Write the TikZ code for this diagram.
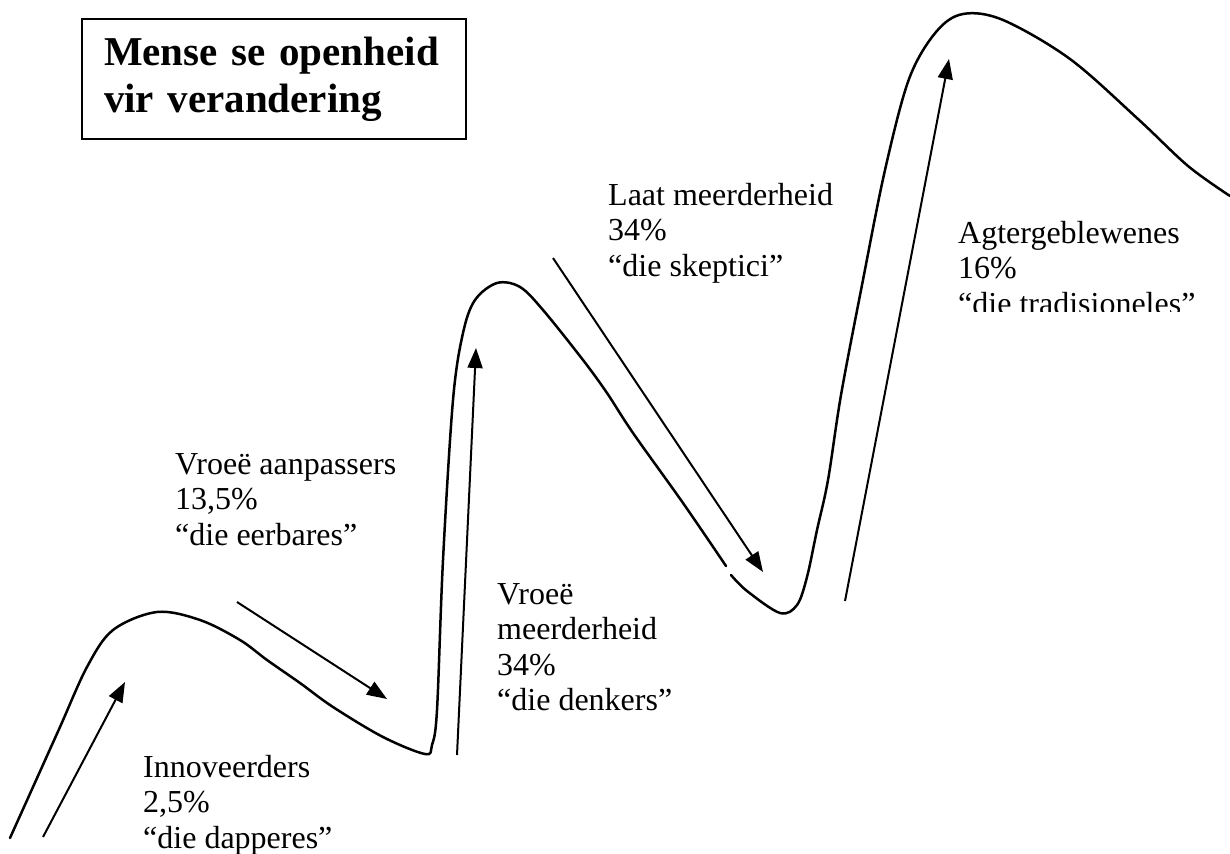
\documentclass[tikz,border=0pt]{standalone}
\usepackage{fontspec}
\setmainfont{Liberation Serif}
\usetikzlibrary{arrows.meta,positioning}

\begin{document}
\begin{tikzpicture}[
      x=1pt, y=-1pt,
      wave/.style={line width=2.5pt, line join=round, line cap=round},
      flow/.style={line width=2pt, -{Triangle[length=20pt,width=15pt]}},
      group/.style={anchor=north west, align=left, inner sep=0pt,
        font=\fontsize{32}{35.5}\selectfont},
      titlebox/.style={draw, line width=2pt, anchor=north west, align=left,
        text width=340pt, inner xsep=22pt, inner ysep=18pt,
        font=\fontsize{41}{47}\selectfont\bfseries}
    ]
    \useasboundingbox (0,0) rectangle (1230,853);

    \node[titlebox] (title) at (81,18) {Mense se openheid\\vir verandering};

    \draw[wave] plot[smooth, tension=0.55] coordinates {
      (10,838) (33,787) (60,727) (87,667) (113,630) (157,612) (200,620)
      (240,640) (267,660) (300,683) (333,707) (383,737) (425,754)
      (432,745) (437,710) (443,560) (453,400) (463,333) (475,300)
      (497,283) (520,287) (543,310) (583,360) (607,393) (633,433)
      (683,503) (726,566)};
    \draw[wave] plot[smooth, tension=0.55] coordinates {
      (731,575) (747,591) (780,613) (797,605) (807,577) (817,530)
      (828,480) (841,395) (862,285) (885,170) (909,79) (936,32)
      (963,14) (1003,20) (1070,59) (1138,119) (1188,166) (1230,196)};

    \coordinate (innovS) at (43,837);
    \coordinate (innovE) at (125,682);
    \coordinate (earlyS) at (237,602);
    \coordinate (earlyE) at (387,699);
    \coordinate (emajS) at (457,755);
    \coordinate (emajE) at (476,348);
    \coordinate (lmajS) at (553,258);
    \coordinate (lmajE) at (763,572);
    \coordinate (laggS) at (845,601);
    \coordinate (laggE) at (949,59);

    \draw[flow] (innovS) -- (innovE);
    \draw[flow] (earlyS) -- (earlyE);
    \draw[flow] (emajS) -- (emajE);
    \draw[flow] (lmajS) -- (lmajE);
    \draw[flow] (laggS) -- (laggE);

    \node[group] (innov) at (143,755) {Innoveerders\\2,5\%\\“die dapperes”};
    \node[group] (early) at (175,453) {Vroeë aanpassers\\13,5\%\\“die eerbares”};
    \node[group] (emaj) at (497,583) {Vroeë\\meerderheid\\34\%\\“die denkers”};
    \node[group] (lmaj) at (608,183) {Laat meerderheid\\34\%\\“die skeptici”};
    \begin{scope}
      \clip (930,0) rectangle (1230,311);
      \node[group] (lagg) at (958,221) {Agtergeblewenes\\16\%\\“die tradisioneles”};
    \end{scope}
\end{tikzpicture}
\end{document}
